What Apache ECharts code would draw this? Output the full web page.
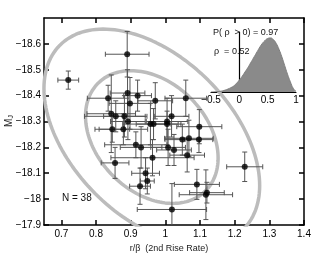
<!DOCTYPE html>
<html>
<head>
<meta charset="utf-8">
<script src="https://cdn.jsdelivr.net/npm/echarts@6/dist/echarts.min.js"></script>
<style>
html,body{margin:0;padding:0;background:#fff;}
#c{width:336px;height:253px;}
</style>
</head>
<body>
<div id="c"></div>
<script>
// ---- data ----
const xTicks = [0.7, 0.8, 0.9, 1.0, 1.1, 1.2, 1.3, 1.4];
const yTicks = [-18.6, -18.5, -18.4, -18.3, -18.2, -18.1, -18.0, -17.9];
const insetTicks = [-0.5, 0, 0.5, 1];

const riseRate = [0.72, 0.89, 0.835, 0.891, 0.92, 0.971, 0.898, 1.059, 0.844, 0.857,
                  0.882, 0.892, 0.847, 0.879, 0.957, 0.966, 1.005, 1.018, 1.005, 1.098,
                  1.049, 1.068, 1.097, 0.915, 0.93, 1.008, 1.025, 1.063, 0.963, 0.855,
                  1.229, 0.943, 0.948, 0.927, 1.091, 1.117, 1.12, 1.019];
const magJ = [-18.46, -18.56, -18.39, -18.41, -18.40, -18.38, -18.37, -18.39, -18.33, -18.32,
              -18.32, -18.30, -18.27, -18.27, -18.29, -18.29, -18.30, -18.32, -18.29, -18.28,
              -18.23, -18.235, -18.23, -18.21, -18.20, -18.20, -18.19, -18.17, -18.16, -18.14,
              -18.125, -18.10, -18.07, -18.05, -18.057, -18.017, -18.025, -17.96];
const riseErr = [0.03, 0.063, 0.06, 0.05, 0.04, 0.05, 0.06, 0.06, 0.07, 0.09,
                 0.06, 0.05, 0.05, 0.07, 0.08, 0.05, 0.06, 0.05, 0.04, 0.065,
                 0.05, 0.07, 0.04, 0.09, 0.06, 0.05, 0.05, 0.05, 0.12, 0.04,
                 0.052, 0.04, 0.02, 0.03, 0.065, 0.077, 0.05, 0.1];
const magErr = [0.035, 0.088, 0.05, 0.09, 0.06, 0.07, 0.1, 0.07, 0.15, 0.06,
                0.08, 0.07, 0.05, 0.06, 0.08, 0.06, 0.09, 0.08, 0.05, 0.066,
                0.06, 0.07, 0.05, 0.05, 0.08, 0.07, 0.06, 0.065, 0.07, 0.06,
                0.057, 0.06, 0.05, 0.07, 0.058, 0.096, 0.04, 0.1];

// posterior of correlation coefficient (inset)
const rhoBins = [-0.5, -0.45, -0.4, -0.35, -0.3, -0.25, -0.2, -0.15, -0.1, -0.05,
                 0, 0.05, 0.1, 0.15, 0.2, 0.25, 0.3, 0.35, 0.4, 0.45,
                 0.5, 0.55, 0.6, 0.65, 0.7, 0.75, 0.8, 0.85, 0.9, 0.95, 1.0];
const rhoDensity = [0, 0.002, 0.005, 0.01, 0.02, 0.035, 0.055, 0.08, 0.11, 0.16,
                    0.22, 0.29, 0.37, 0.45, 0.54, 0.63, 0.72, 0.81, 0.89, 0.95,
                    0.99, 1.0, 0.97, 0.9, 0.79, 0.65, 0.49, 0.33, 0.19, 0.07, 0.01];

// confidence contours (center, major and minor semi-axis vectors in data units)
const contourCenter = [0.961, -18.24];
const contourMajor = [[0.265, 0.355], [0.155, 0.208]];
const contourMinor = [[0.163, -0.219], [0.112, -0.150]];

// ---- build ----
function ellipse(k) {
  const pts = [];
  const n = 160;
  for (let i = 0; i <= n; i++) {
    const t = 2 * Math.PI * i / n;
    const c = Math.cos(t), s = Math.sin(t);
    pts.push([
      contourCenter[0] + contourMajor[k][0] * c + contourMinor[k][0] * s,
      contourCenter[1] + contourMajor[k][1] * c + contourMinor[k][1] * s
    ]);
  }
  return pts;
}
const fmt = v => String(Math.round(v * 10) / 10).replace('-', '\u2212');
const FONT = 'Liberation Sans, Arial, Helvetica, sans-serif';
const pts = riseRate.map((v, i) => [v, magJ[i], riseErr[i], magErr[i]]);

const chart = echarts.init(document.getElementById('c'), null, {renderer: 'canvas'});
const axisLine = {show: true, lineStyle: {color: '#000', width: 1.5}};
chart.setOption({
  animation: false,
  backgroundColor: '#fff',
  textStyle: {fontFamily: FONT},
  grid: [
    {left: 44, right: 32, top: 18, bottom: 28, containLabel: false, outerBoundsMode: 'none'},
    {left: 211, top: 32, width: 85, height: 60, containLabel: false, outerBoundsMode: 'none'}
  ],
  xAxis: [
    {type: 'value', gridIndex: 0, min: 0.65, max: 1.4, position: 'bottom',
     axisLine: axisLine, splitLine: {show: false},
     axisTick: {inside: true, length: 5, customValues: xTicks, lineStyle: {color: '#000', width: 1.5}},
     axisLabel: {customValues: xTicks, formatter: fmt, color: '#000', fontSize: 10, margin: 4, fontFamily: FONT},
     name: 'r/\u03b2  (2nd Rise Rate)', nameLocation: 'middle', nameGap: 14,
     nameTextStyle: {fontSize: 9, color: '#222', fontFamily: FONT, padding: [0, 10, 0, 0]}},
    {type: 'value', gridIndex: 0, min: 0.65, max: 1.4, position: 'top',
     axisLine: axisLine, splitLine: {show: false},
     axisTick: {inside: true, length: 5, customValues: xTicks, lineStyle: {color: '#000', width: 1.5}},
     axisLabel: {show: false}},
    {type: 'value', gridIndex: 1, min: -0.5, max: 1, interval: 0.5,
     axisLine: {show: true, lineStyle: {color: '#000', width: 1.2}}, splitLine: {show: false},
     axisTick: {show: false},
     axisLabel: {formatter: fmt, color: '#000', fontSize: 10, margin: 3, fontFamily: FONT}}
  ],
  yAxis: [
    {type: 'value', gridIndex: 0, min: -18.7, max: -17.9, inverse: true, position: 'left',
     axisLine: axisLine, splitLine: {show: false},
     axisTick: {inside: true, length: 5, customValues: yTicks, lineStyle: {color: '#000', width: 1.5}},
     axisLabel: {customValues: yTicks, formatter: fmt, color: '#000', fontSize: 10, margin: 3, fontFamily: FONT}},
    {type: 'value', gridIndex: 0, min: -18.7, max: -17.9, inverse: true, position: 'right',
     axisLine: axisLine, splitLine: {show: false},
     axisTick: {inside: true, length: 5, customValues: yTicks, lineStyle: {color: '#000', width: 1.5}},
     axisLabel: {show: false}},
    {type: 'value', gridIndex: 1, min: 0, max: 1.11,
     axisLine: {show: true, lineStyle: {color: '#000', width: 1.2}}, splitLine: {show: false},
     axisTick: {show: false}, axisLabel: {show: false}}
  ],
  series: [
    {type: 'line', xAxisIndex: 0, yAxisIndex: 0, data: ellipse(0), showSymbol: false, silent: true,
     clip: true, z: 1, lineStyle: {color: '#bcbcbc', width: 3.5}},
    {type: 'line', xAxisIndex: 0, yAxisIndex: 0, data: ellipse(1), showSymbol: false, silent: true,
     clip: true, z: 1, lineStyle: {color: '#bcbcbc', width: 3.5}},
    {type: 'custom', xAxisIndex: 0, yAxisIndex: 0, data: pts, z: 2, clip: true,
     renderItem: function (params, api) {
       const x = api.value(0), y = api.value(1), ex = api.value(2), ey = api.value(3);
       const l = api.coord([x - ex, y]), r = api.coord([x + ex, y]);
       const t = api.coord([x, y - ey]), b = api.coord([x, y + ey]);
       const cap = 2.5;
       const st = {stroke: '#555', lineWidth: 1};
       const ln = (x1, y1, x2, y2) => ({type: 'line', shape: {x1, y1, x2, y2}, style: st});
       return {type: 'group', children: [
         ln(l[0], l[1], r[0], r[1]),
         ln(l[0], l[1] - cap, l[0], l[1] + cap),
         ln(r[0], r[1] - cap, r[0], r[1] + cap),
         ln(t[0], t[1], b[0], b[1]),
         ln(t[0] - cap, t[1], t[0] + cap, t[1]),
         ln(b[0] - cap, b[1], b[0] + cap, b[1])
       ]};
     }},
    {type: 'scatter', xAxisIndex: 0, yAxisIndex: 0, data: pts.map(p => [p[0], p[1]]), z: 3,
     symbol: 'circle', symbolSize: 6, itemStyle: {color: '#000'}},
    {type: 'line', xAxisIndex: 2, yAxisIndex: 2, data: rhoBins.map((v, i) => [v, rhoDensity[i]]),
     showSymbol: false, smooth: true, z: 4, silent: true,
     lineStyle: {color: '#7f7f7f', width: 1}, areaStyle: {color: '#8a8a8a', opacity: 1}}
  ],
  graphic: [
    {type: 'text', x: 9, y: 121, rotation: Math.PI / 2, z: 10,
     style: {text: '{m|M}{s|J}', align: 'center', verticalAlign: 'middle',
             rich: {m: {fontSize: 10, fill: '#222', fontFamily: FONT},
                    s: {fontSize: 7, fill: '#222', fontFamily: FONT, padding: [5, 0, 0, 0]}}}},
    {type: 'text', left: 213, top: 28, z: 10,
     style: {text: 'P( \u03c1  > 0) = 0.97', fontSize: 9, fill: '#111', fontFamily: FONT}},
    {type: 'text', left: 214, top: 47, z: 10,
     style: {text: '\u03c1  = 0.52', fontSize: 9, fill: '#111', fontFamily: FONT}},
    {type: 'text', left: 62, top: 193, z: 10,
     style: {text: 'N = 38', fontSize: 10, fill: '#111', fontFamily: FONT}}
  ]
});
</script>
</body>
</html>
